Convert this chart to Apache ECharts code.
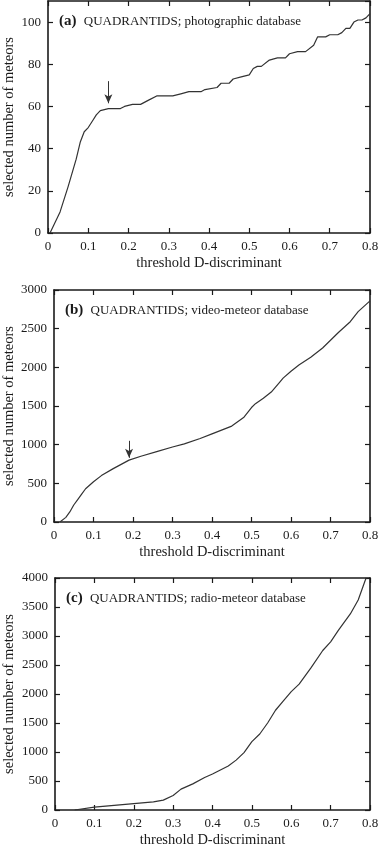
<!DOCTYPE html>
<html>
<head>
<meta charset="utf-8">
<script src="https://cdn.jsdelivr.net/npm/echarts@6/dist/echarts.min.js"></script>
<style>
  html, body { margin: 0; padding: 0; background: #fff; }
  #chart { width: 379px; height: 847px; }
</style>
</head>
<body>
<div id="chart"></div>
<script>
// panel (a) photographic database
const photoX = [0.005, 0.03, 0.05, 0.07, 0.08, 0.09, 0.10, 0.11, 0.12, 0.13, 0.15, 0.18, 0.19, 0.21, 0.23, 0.25, 0.27, 0.31, 0.33, 0.35, 0.38, 0.39, 0.42, 0.43, 0.45, 0.46, 0.48, 0.50, 0.51, 0.52, 0.53, 0.55, 0.57, 0.59, 0.60, 0.62, 0.64, 0.66, 0.67, 0.69, 0.70, 0.72, 0.73, 0.74, 0.75, 0.76, 0.77, 0.78, 0.79, 0.80]
const photoY = [0, 10, 22, 35, 43, 48, 50, 53, 56, 58, 59, 59, 60, 61, 61, 63, 65, 65, 66, 67, 67, 68, 69, 71, 71, 73, 74, 75, 78, 79, 79, 82, 83, 83, 85, 86, 86, 89, 93, 93, 94, 94, 95, 97, 97, 100, 101, 101, 102, 104]

// panel (b) video-meteor database
const videoX = [0.015, 0.03, 0.04, 0.05, 0.06, 0.07, 0.08, 0.10, 0.12, 0.15, 0.19, 0.22, 0.26, 0.30, 0.33, 0.37, 0.40, 0.45, 0.48, 0.50, 0.51, 0.53, 0.55, 0.57, 0.58, 0.60, 0.62, 0.65, 0.68, 0.70, 0.72, 0.75, 0.77, 0.80]
const videoY = [0, 60, 130, 220, 290, 360, 430, 520, 600, 690, 800, 850, 910, 970, 1010, 1080, 1140, 1240, 1350, 1480, 1530, 1600, 1680, 1800, 1860, 1950, 2030, 2130, 2250, 2350, 2450, 2590, 2720, 2860]

// panel (c) radio-meteor database
const radioX = [0.05, 0.10, 0.15, 0.20, 0.25, 0.275, 0.30, 0.32, 0.35, 0.38, 0.40, 0.44, 0.46, 0.48, 0.50, 0.52, 0.54, 0.56, 0.58, 0.60, 0.62, 0.65, 0.68, 0.70, 0.72, 0.75, 0.77, 0.79]
const radioY = [0, 50, 80, 110, 140, 170, 250, 360, 450, 560, 620, 760, 860, 990, 1180, 1310, 1500, 1720, 1880, 2040, 2170, 2450, 2750, 2900, 3100, 3380, 3620, 4000]

const panels = [
  { tag: '(a)', label: 'QUADRANTIDS; photographic database', xs: photoX, ys: photoY, yMax: 110, yStep: 20, arrow: [0.15, 72, 61.5] },
  { tag: '(b)', label: 'QUADRANTIDS; video-meteor database', xs: videoX, ys: videoY, yMax: 3000, yStep: 500, arrow: [0.19, 1050, 830] },
  { tag: '(c)', label: 'QUADRANTIDS; radio-meteor database', xs: radioX, ys: radioY, yMax: 4000, yStep: 500, arrow: null }
]

const grids = [
  { left: 48, top: 1, width: 322, height: 232, nameGap: 31 },
  { left: 54, top: 290, width: 316, height: 232, nameGap: 37 },
  { left: 55, top: 578, width: 315, height: 232, nameGap: 38 }
]

const FONT = 'Liberation Serif'
const INK = '#1a1a1a'
const FRAME = { onZero: false, lineStyle: { color: INK, width: 1.6 } }

let option = {
  animation: false,
  textStyle: { fontFamily: FONT, color: INK },
  title: [],
  grid: [],
  xAxis: [],
  yAxis: [],
  series: []
}

panels.forEach((p, i) => {
  const g = grids[i]
  option.grid.push({ left: g.left, top: g.top, width: g.width, height: g.height, outerBoundsMode: 'none', containLabel: false })

  option.title.push({
    text: '{b|' + p.tag + '} ' + p.label,
    left: g.left + 6,
    top: g.top + 8,
    textStyle: {
      fontFamily: FONT,
      fontSize: 13,
      fontWeight: 'normal',
      color: INK,
      rich: { b: { fontFamily: FONT, fontSize: 15, fontWeight: 'bold', color: INK, padding: [0, 4, 0, 0] } }
    }
  })

  const tickIn = { show: true, inside: true, length: 5, lineStyle: { color: INK, width: 1.2 } }
  // bottom axis
  option.xAxis.push({
    type: 'value', gridIndex: i, min: 0, max: 0.8, interval: 0.1,
    axisLine: FRAME,
    axisTick: tickIn,
    splitLine: { show: false },
    axisLabel: { fontFamily: FONT, fontSize: 13, color: INK, margin: 7, formatter: v => (v === 0 ? '0' : String(+v.toFixed(1))) },
    name: 'threshold D-discriminant', nameLocation: 'middle', nameGap: 23, nameMoveOverlap: false,
    nameTextStyle: { fontFamily: FONT, fontSize: 14.5, color: INK }
  })
  // top mirror axis
  option.xAxis.push({
    type: 'value', gridIndex: i, position: 'top', min: 0, max: 0.8, interval: 0.1,
    axisLine: FRAME,
    axisTick: tickIn, axisLabel: { show: false }, splitLine: { show: false }
  })
  option.yAxis.push({
    type: 'value', gridIndex: i, min: 0, max: p.yMax, interval: p.yStep,
    axisLine: FRAME,
    axisTick: tickIn,
    splitLine: { show: false },
    axisLabel: { fontFamily: FONT, fontSize: 13, color: INK, margin: 7, showMaxLabel: p.yMax % p.yStep === 0, formatter: v => String(v) },
    name: 'selected number of meteors', nameLocation: 'middle', nameGap: g.nameGap, nameMoveOverlap: false,
    nameTextStyle: { fontFamily: FONT, fontSize: 14.5, color: INK }
  })
  // right mirror axis
  option.yAxis.push({
    type: 'value', gridIndex: i, position: 'right', min: 0, max: p.yMax, interval: p.yStep,
    axisLine: FRAME,
    axisTick: tickIn, axisLabel: { show: false }, splitLine: { show: false }
  })

  const s = {
    type: 'line',
    xAxisIndex: i * 2,
    yAxisIndex: i * 2,
    data: p.xs.map((x, k) => [x, p.ys[k]]),
    showSymbol: false,
    clip: true,
    lineStyle: { color: '#333', width: 1.2 }
  }
  if (p.arrow) {
    s.markLine = {
      silent: true,
      symbol: ['none', 'arrow'],
      symbolSize: [6, 9],
      label: { show: false },
      lineStyle: { color: '#333', width: 1, type: 'solid' },
      data: [[{ coord: [p.arrow[0], p.arrow[1]] }, { coord: [p.arrow[0], p.arrow[2]] }]]
    }
  }
  option.series.push(s)
})

const chart = echarts.init(document.getElementById('chart'))
chart.setOption(option)
</script>
</body>
</html>
